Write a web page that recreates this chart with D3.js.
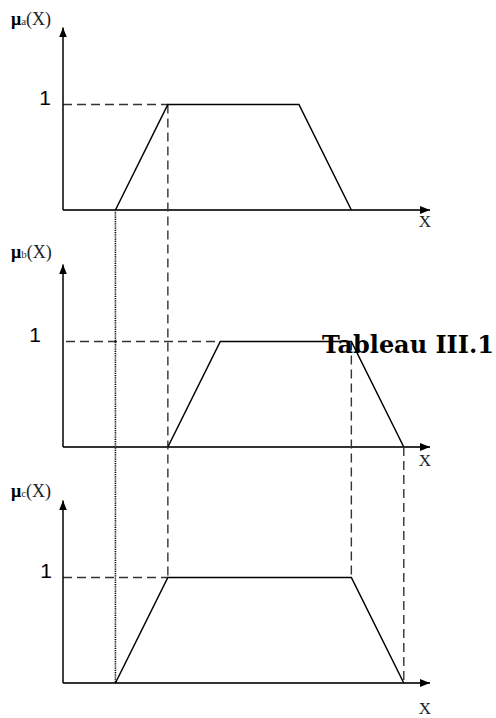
<!DOCTYPE html>
<html>
<head>
<meta charset="utf-8">
<script src="https://cdn.jsdelivr.net/npm/d3@7"></script>
<style>
  body { margin: 0; background: #fff; }
</style>
</head>
<body>
<svg id="drawing_region"></svg>
<script>
// membership functions (x, mu) for the three sets
const shapeA = [[1, 0], [2, 1], [4.5, 1], [5.5, 0]];
const shapeB = [[2, 0], [3, 1], [5.5, 1], [6.5, 0]];
const shapeC = [[1, 0], [2, 1], [5.5, 1], [6.5, 0]];
const shapes = [shapeA, shapeB, shapeC];
const subscripts = ["a", "b", "c"];
const levelLabel = "1";
const axisLabel = "X";
const title = "Tableau III.1";

// guide lines that join the panels: x value, from [panel, mu] to [panel, mu]
const guides = [
    {x: 1,   from: [0, 0], to: [2, 0], kind: "dotted"},
    {x: 2,   from: [0, 1], to: [2, 1], kind: "dashed"},
    {x: 5.5, from: [1, 1], to: [2, 1], kind: "dashed"},
    {x: 6.5, from: [1, 0], to: [2, 0], kind: "dashed"}
];

var config = {
    width: 496,
    height: 718,
    bottoms: [210, 447, 683],
    unitHeight: 105.5,
    labelBaseline: [25, 258, 497],
    xLabelOffset: [17, 19, 31],
    oneRight: [51, 41, 52]
};

const svg = d3.select("#drawing_region")
    .attr("width", config.width)
    .attr("height", config.height);

const xscale = d3.scaleLinear().domain([0, 7]).range([63, 430]);

const yscales = config.bottoms.map(b =>
    d3.scaleLinear().domain([0, 1]).range([b, b - config.unitHeight]));

const defs = svg.append("defs");
defs.append("marker")
    .attr("id", "arrow")
    .attr("viewBox", "0 0 10 8")
    .attr("refX", 10).attr("refY", 4)
    .attr("markerWidth", 10).attr("markerHeight", 8)
    .attr("markerUnits", "userSpaceOnUse")
    .attr("orient", "auto")
    .append("path")
    .attr("d", "M0,0 L10,4 L0,8 Z")
    .attr("fill", "#000");

const line = d3.line();

// vertical guides across panels (drawn first so the shapes sit on top)
svg.selectAll(".guide")
    .data(guides)
    .enter()
    .append("line")
    .attr("class", "guide")
    .attr("x1", d => xscale(d.x))
    .attr("x2", d => xscale(d.x))
    .attr("y1", d => yscales[d.from[0]](d.from[1]))
    .attr("y2", d => yscales[d.to[0]](d.to[1]))
    .attr("stroke", d => d.kind == "dotted" ? "#000" : "#333")
    .attr("stroke-width", d => d.kind == "dotted" ? 1.6 : 1.4)
    .attr("stroke-dasharray", d => d.kind == "dotted" ? "1.2,1" : "9,5");

shapes.forEach((shape, i) => {
    const y = yscales[i];
    const g = svg.append("g");

    // horizontal dashed line at mu = 1 up to the plateau start
    const plateau = shape.find(p => p[1] == 1);
    g.append("line")
        .attr("x1", xscale(0) + (i == 1 ? 3 : 0))
        .attr("x2", xscale(plateau[0]))
        .attr("y1", y(1)).attr("y2", y(1))
        .attr("stroke", "#333")
        .attr("stroke-width", 1.4)
        .attr("stroke-dasharray", "9,5");

    // x axis
    g.append("line")
        .attr("x1", xscale(0)).attr("x2", xscale(7))
        .attr("y1", y(0)).attr("y2", y(0))
        .attr("stroke", "#333")
        .attr("stroke-width", 1.8)
        .attr("marker-end", "url(#arrow)");

    // y axis
    g.append("line")
        .attr("x1", xscale(0)).attr("x2", xscale(0))
        .attr("y1", y(0)).attr("y2", y(1.73))
        .attr("stroke", "#000")
        .attr("stroke-width", 1.5)
        .attr("marker-end", "url(#arrow)");

    // trapezoid
    g.append("path")
        .attr("d", line(shape.map(p => [xscale(p[0]), y(p[1])])))
        .attr("fill", "none")
        .attr("stroke", "#000")
        .attr("stroke-width", 1.5);

    // "1" label
    g.append("text")
        .attr("x", config.oneRight[i])
        .attr("y", y(1))
        .attr("text-anchor", "end")
        .attr("font-family", "Liberation Sans, Arial, sans-serif")
        .attr("font-size", "21px")
        .text(levelLabel);

    // mu label
    const lab = g.append("text")
        .attr("x", 11)
        .attr("y", config.labelBaseline[i])
        .attr("font-family", "Liberation Serif, Times New Roman, serif")
        .attr("font-size", "18px");
    lab.append("tspan").attr("font-weight", "bold").text("\u03bc");
    lab.append("tspan").attr("font-size", "11px").attr("fill", "#333").text(subscripts[i]);
    lab.append("tspan").attr("fill", "#222").text("(" + axisLabel + ")");

    // x label
    g.append("text")
        .attr("x", xscale(7) - 5)
        .attr("y", y(0) + config.xLabelOffset[i])
        .attr("text-anchor", "middle")
        .attr("font-family", "Liberation Serif, Times New Roman, serif")
        .attr("font-size", "17px")
        .attr("fill", "#222")
        .text(axisLabel);
});

svg.append("text")
    .attr("x", 322)
    .attr("y", 353)
    .attr("font-family", "DejaVu Serif, serif")
    .attr("font-weight", "bold")
    .attr("font-size", "24px")
    .attr("textLength", 172)
    .attr("lengthAdjust", "spacingAndGlyphs")
    .text(title);
</script>
</body>
</html>
